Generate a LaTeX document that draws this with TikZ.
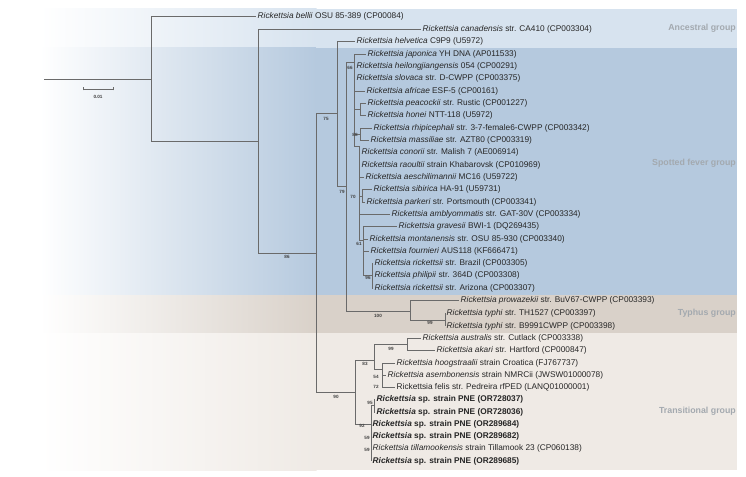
\documentclass[tikz,border=0pt]{standalone}
\usepackage{fontspec}
\setmainfont{Liberation Sans}
\usepackage{xcolor}
\usepackage{tikz}
\definecolor{ancbg}{HTML}{D7E3EF}
\definecolor{sfgbg}{HTML}{B5C9DE}
\definecolor{typbg}{HTML}{D9D1C9}
\definecolor{trabg}{HTML}{EFEAE5}
\definecolor{branch}{HTML}{6A6A6A}
\definecolor{grplbl}{HTML}{A3A9AF}

\begin{document}
\begin{tikzpicture}[x=1pt, y=-1pt,
  leaf/.style={anchor=west, inner xsep=1.5pt, inner ysep=0pt,
               font=\fontsize{8.3}{9}\selectfont, text=black!85},
  pne/.style={leaf, font=\fontsize{8.3}{9}\selectfont\bfseries},
  bs/.style={font=\fontsize{4.6}{5}\selectfont\bfseries, text=black!75, inner sep=0pt},
  grp/.style={anchor=east, font=\fontsize{8.8}{10}\selectfont\bfseries,
              text=grplbl, inner sep=0pt},
  br/.style={draw=branch, line width=0.7pt}
]
\useasboundingbox (0,0) rectangle (746,476);

% Group bands -- fade in from the left, solid from x=316
\shade[left color=white, right color=ancbg] (40,9)   rectangle (316.5,48);
\shade[left color=white, right color=sfgbg] (40,48)  rectangle (316.5,295);
\shade[left color=white, right color=typbg] (40,295) rectangle (316.5,333);
\shade[left color=white, right color=trabg] (40,333) rectangle (316.5,470);
\fill[ancbg] (316,9)   rectangle (737,48);
\fill[sfgbg] (316,48)  rectangle (737,295);
\fill[typbg] (316,295) rectangle (737,333);
\fill[trabg] (316,333) rectangle (737,470);

\node[grp] (ganc) at (736,28)  {Ancestral group};
\node[grp] (gsfg) at (736,163) {Spotted fever group};
\node[grp] (gtyp) at (736,313) {Typhus group};
\node[grp] (gtra) at (736,411) {Transitional group};

% Scale bar
\coordinate (sc1) at (83,89);
\coordinate (sc2) at (113,89);
\draw[br, line width=0.5pt] (sc1) -- (sc2);
\draw[br, line width=0.5pt] ([yshift=-1.5pt]sc1) -- ([yshift=1.5pt]sc1);
\draw[br, line width=0.5pt] ([yshift=-1.5pt]sc2) -- ([yshift=1.5pt]sc2);
\node[bs] (sclbl) at (98,97) {0.01};

% Leaves
\node[leaf] (bel) at (256,16)  {\textit{Rickettsia bellii} OSU 85-389 (CP00084)};
\node[leaf] (can) at (421,29)  {\textit{Rickettsia canadensis} str. CA410 (CP003304)};
\node[leaf] (hel) at (355,41)  {\textit{Rickettsia helvetica} C9P9 (U5972)};
\node[leaf] (jap) at (366,54)  {\textit{Rickettsia japonica} YH DNA (AP011533)};
\node[leaf] (hei) at (355,66)  {\textit{Rickettsia heilongjiangensis} 054 (CP00291)};
\node[leaf] (slo) at (355,78)  {\textit{Rickettsia slovaca} str. D-CWPP (CP003375)};
\node[leaf] (afr) at (365,91)  {\textit{Rickettsia africae} ESF-5 (CP00161)};
\node[leaf] (pea) at (366,103) {\textit{Rickettsia peacockii} str. Rustic (CP001227)};
\node[leaf] (hon) at (366,115) {\textit{Rickettsia honei} NTT-118 (U5972)};
\node[leaf] (rhi) at (372,128) {\textit{Rickettsia rhipicephali} str. 3-7-female6-CWPP (CP003342)};
\node[leaf] (mas) at (369,140) {\textit{Rickettsia massiliae} str. AZT80 (CP003319)};
\node[leaf] (con) at (360,152) {\textit{Rickettsia conorii} str. Malish 7 (AE006914)};
\node[leaf] (rao) at (360,165) {\textit{Rickettsia raoultii} strain Khabarovsk (CP010969)};
\node[leaf] (aes) at (364,177) {\textit{Rickettsia aeschilimannii} MC16 (U59722)};
\node[leaf] (sib) at (372,189) {\textit{Rickettsia sibirica} HA-91 (U59731)};
\node[leaf] (par) at (365,202) {\textit{Rickettsia parkeri} str. Portsmouth (CP003341)};
\node[leaf] (amb) at (390,214) {\textit{Rickettsia amblyommatis} str. GAT-30V (CP003334)};
\node[leaf] (gra) at (397,226) {\textit{Rickettsia gravesii} BWI-1 (DQ269435)};
\node[leaf] (mon) at (368,239) {\textit{Rickettsia montanensis} str. OSU 85-930 (CP003340)};
\node[leaf] (fou) at (369,251) {\textit{Rickettsia fournieri} AUS118 (KF666471)};
\node[leaf] (brz) at (373,263) {\textit{Rickettsia rickettsii} str. Brazil (CP003305)};
\node[leaf] (phi) at (373,275) {\textit{Rickettsia philipii} str. 364D (CP003308)};
\node[leaf] (ari) at (373,288) {\textit{Rickettsia rickettsii} str. Arizona (CP003307)};
\node[leaf] (pro) at (459,300) {\textit{Rickettsia prowazekii} str. BuV67-CWPP (CP003393)};
\node[leaf] (ty1) at (445,313) {\textit{Rickettsia typhi} str. TH1527 (CP003397)};
\node[leaf] (ty2) at (445,326) {\textit{Rickettsia typhi} str. B9991CWPP (CP003398)};
\node[leaf] (aus) at (421,338) {\textit{Rickettsia australis} str. Cutlack (CP003338)};
\node[leaf] (aka) at (435,350) {\textit{Rickettsia akari} str. Hartford (CP000847)};
\node[leaf] (hoo) at (395,363) {\textit{Rickettsia hoogstraalii} strain Croatica (FJ767737)};
\node[leaf] (ase) at (386,375) {\textit{Rickettsia asembonensis} strain NMRCii (JWSW01000078)};
\node[leaf] (fel) at (395,387) {Rickettsia felis str. Pedreira rfPED (LANQ01000001)};
\node[pne]  (p37) at (375,399) {\textit{Rickettsia} sp. strain PNE (OR728037)};
\node[pne]  (p36) at (375,412) {\textit{Rickettsia} sp. strain PNE (OR728036)};
\node[pne]  (p84) at (371,424) {\textit{Rickettsia} sp. strain PNE (OR289684)};
\node[pne]  (p82) at (371,436) {\textit{Rickettsia} sp. strain PNE (OR289682)};
\node[leaf] (til) at (371,448) {\textit{Rickettsia tillamookensis} strain Tillamook 23 (CP060138)};
\node[pne]  (p85) at (371,461) {\textit{Rickettsia} sp. strain PNE (OR289685)};

% Internal nodes
\coordinate (base) at (44,79);
\coordinate (n0)   at (151,79);
\coordinate (nA)   at (258,141);
\coordinate (n86)  at (316,253);
\coordinate (n75)  at (337,113);
\coordinate (n79)  at (346,186);
\coordinate (n66)  at (354,62);
\coordinate (nPH)  at (360,109);
\coordinate (n88)  at (360,134);
\coordinate (nP)   at (359,146);
\coordinate (n70)  at (362,196);
\coordinate (n61)  at (363,240);
\coordinate (n96)  at (372,275);
\coordinate (n100) at (410,311);
\coordinate (n99a) at (445,320);
\coordinate (n90)  at (355,392);
\coordinate (n83)  at (374,360);
\coordinate (n99b) at (407,344);
\coordinate (n54)  at (382,369);
\coordinate (n92)  at (371,424);
\coordinate (n95)  at (374,405);

% Branches
\draw[br] (base) -- (n0);
\draw[br] (n0) |- (bel.west) (n0) |- (nA);
\draw[br] (nA) |- (can.west) (nA) |- (n86);
\draw[br] (n86) |- (n75) (n86) |- (n90);
\draw[br] (n75) |- (hel.west) (n75) |- (n79);
\draw[br] (n79) |- (n66) (n79) |- (n100);
\draw[br] (n66) |- (jap.west) (n66) |- (hei.west) (n66) |- (slo.west)
          (n66) |- (afr.west) (n66) |- (nPH) (n66) |- (n88) (n66) |- (nP);
\draw[br] (nPH) |- (pea.west) (nPH) |- (hon.west);
\draw[br] (n88) |- (rhi.west) (n88) |- (mas.west);
\draw[br] (nP) |- (con.west) (nP) |- (rao.west) (nP) |- (aes.west)
          (nP) |- (n70) (nP) |- (amb.west) (nP) |- (n61);
\draw[br] (n70) |- (sib.west) (n70) |- (par.west);
\draw[br] (n61) |- (gra.west) (n61) |- (mon.west) (n61) |- (fou.west) (n61) |- (n96);
\draw[br] (n96) |- (brz.west) (n96) |- (phi.west) (n96) |- (ari.west);
\draw[br] (n100) |- (pro.west) (n100) |- (n99a);
\draw[br] (n99a) |- (ty1.west) (n99a) |- (ty2.west);
\draw[br] (n90) |- (n83) (n90) |- (n92);
\draw[br] (n83) |- (n99b) (n83) |- (n54);
\draw[br] (n99b) |- (aus.west) (n99b) |- (aka.west);
\draw[br] (n54) |- (hoo.west) (n54) |- (ase.west) (n54) |- (fel.west);
\draw[br] (n92) |- (n95) (n92) |- (p84.west) (n92) |- (p82.west)
          (n92) |- (til.west) (n92) |- (p85.west);
\draw[br] (n95) |- (p37.west) (n95) |- (p36.west);

% Bootstrap values
\node[bs] (b86)  at (287,257) {86};
\node[bs] (b75)  at (326,119) {75};
\node[bs] (b66)  at (350,68)  {66};
\node[bs] (b79)  at (342,192) {79};
\node[bs] (b88)  at (355,135) {88};
\node[bs] (b70)  at (353,197) {70};
\node[bs] (b61)  at (359,244) {61};
\node[bs] (b96)  at (368,278) {96};
\node[bs] (b100) at (378,316) {100};
\node[bs] (b99a) at (430,323) {99};
\node[bs] (b99b) at (391,349) {99};
\node[bs] (b83)  at (365,364) {83};
\node[bs] (b54)  at (376,377) {54};
\node[bs] (b72)  at (376,387) {72};
\node[bs] (b90)  at (336,397) {90};
\node[bs] (b95)  at (370,403) {95};
\node[bs] (b92)  at (362,426) {92};
\node[bs] (b59a) at (367,438) {59};
\node[bs] (b59b) at (367,450) {59};
\end{tikzpicture}
\end{document}
